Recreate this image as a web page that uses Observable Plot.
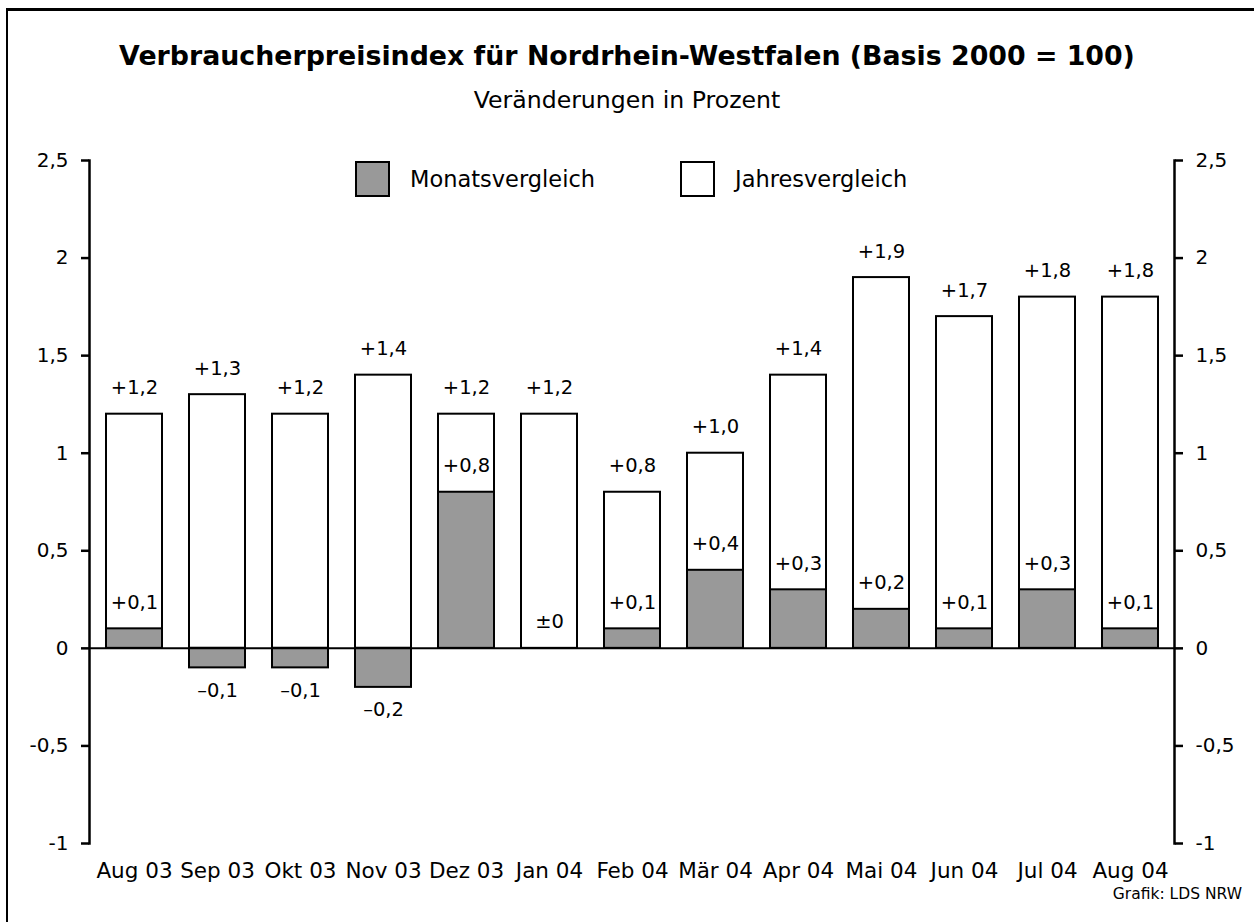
<!DOCTYPE html>
<html>
<head>
<meta charset="utf-8">
<script src="https://cdn.jsdelivr.net/npm/d3@7"></script>
<script src="https://cdn.jsdelivr.net/npm/@observablehq/plot@0.6"></script>
<style>
  body { margin: 0; background: #fff; overflow: hidden; }
  #wrap { position: relative; width: 1254px; height: 922px; overflow: hidden; font-family: "DejaVu Sans", sans-serif; color: #000; background: #fff; }
  #chart { position: absolute; left: 0; top: 0; }
  .frame { position: absolute; left: 6px; top: 8px; width: 1300px; height: 1000px; border-left: 2px solid #000; border-top: 3px solid #000; pointer-events: none; }
  #title { position: absolute; left: 0; width: 1254px; top: 41px; text-align: center; font-weight: bold; font-size: 26.8px; line-height: 30px; white-space: nowrap; }
  #subtitle { position: absolute; left: 0; width: 1254px; top: 86px; text-align: center; font-size: 23.6px; line-height: 28px; white-space: nowrap; }
  .swatch { position: absolute; width: 31px; height: 32px; border: 2px solid #000; }
  .ltext { position: absolute; font-size: 22.5px; line-height: 28px; white-space: nowrap; }
  #credit { position: absolute; right: 12px; top: 884px; font-size: 15.5px; line-height: 20px; white-space: nowrap; }
</style>
</head>
<body>
<div id="wrap">
  <div id="chart"></div>
  <div class="frame"></div>
  <div id="title"></div>
  <div id="subtitle"></div>
  <div id="legend"></div>
  <div id="credit"></div>
</div>
<script>
// ---- data ----
const months = ["Aug 03","Sep 03","Okt 03","Nov 03","Dez 03","Jan 04","Feb 04","Mär 04","Apr 04","Mai 04","Jun 04","Jul 04","Aug 04"];
const jahresvergleich = [1.2, 1.3, 1.2, 1.4, 1.2, 1.2, 0.8, 1.0, 1.4, 1.9, 1.7, 1.8, 1.8];
const monatsvergleich = [0.1, -0.1, -0.1, -0.2, 0.8, 0, 0.1, 0.4, 0.3, 0.2, 0.1, 0.3, 0.1];
const yTicks = [-1, -0.5, 0, 0.5, 1, 1.5, 2, 2.5];
const seriesNames = ["Monatsvergleich", "Jahresvergleich"];
const seriesColors = ["#999999", "#ffffff"];
const titleText = "Verbraucherpreisindex für Nordrhein-Westfalen (Basis 2000 = 100)";
const subtitleText = "Veränderungen in Prozent";
const creditText = "Grafik: LDS NRW";

// ---- helpers ----
const data = months.map((m, i) => ({month: m, jahr: jahresvergleich[i], monat: monatsvergleich[i]}));
const tickFmt = d => String(d).replace(".", ",");
const labelFmt = v => v > 0 ? "+" + v.toFixed(1).replace(".", ",")
                    : v < 0 ? "\u2013" + Math.abs(v).toFixed(1).replace(".", ",")
                    : "\u00b10";

const plot = Plot.plot({
  width: 1254,
  height: 922,
  marginLeft: 89,
  marginRight: 80,
  marginTop: 160,
  marginBottom: 79,
  style: {fontFamily: "DejaVu Sans, sans-serif", fontSize: "20px", background: "transparent", color: "#000", overflow: "visible"},
  x: {domain: months, paddingInner: 0.33, paddingOuter: 0.17, label: null},
  y: {domain: [-1, 2.5], label: null},
  marks: [
    Plot.barY(data, {x: "month", y: "jahr", fill: seriesColors[1], stroke: "#000", strokeWidth: 2}),
    Plot.barY(data, {x: "month", y: "monat", fill: seriesColors[0], stroke: "#000", strokeWidth: 2}),
    Plot.ruleY([0], {stroke: "#000", strokeWidth: 2}),
    Plot.frame({anchor: "left", stroke: "#000", strokeWidth: 2.5}),
    Plot.frame({anchor: "right", stroke: "#000", strokeWidth: 2.5}),
    Plot.axisY({anchor: "left", ticks: yTicks, tickFormat: tickFmt, tickSize: 8, tickPadding: 13, strokeWidth: 2.5, fontSize: 20, label: null}),
    Plot.axisY({anchor: "right", ticks: yTicks, tickFormat: tickFmt, tickSize: 8, tickPadding: 13, strokeWidth: 2.5, fontSize: 20, label: null}),
    Plot.axisX({tickSize: 0, tickPadding: 19, fontSize: 21.5, label: null}),
    Plot.text(data, {x: "month", y: "jahr", text: d => labelFmt(d.jahr), lineAnchor: "bottom", dy: -20, fontSize: 19.5, fill: "#000"}),
    Plot.text(data.filter(d => d.monat >= 0), {x: "month", y: "monat", text: d => labelFmt(d.monat), lineAnchor: "bottom", dy: -20, fontSize: 19.5, fill: "#000"}),
    Plot.text(data.filter(d => d.monat < 0), {x: "month", y: "monat", text: d => labelFmt(d.monat), lineAnchor: "bottom", dy: 29, fontSize: 19.5, fill: "#000"})
  ]
});
document.getElementById("chart").appendChild(plot);

document.getElementById("title").textContent = titleText;
document.getElementById("subtitle").textContent = subtitleText;
document.getElementById("credit").textContent = creditText;

const legend = document.getElementById("legend");
const legendPos = [{box: 355, text: 410}, {box: 680, text: 735}];
seriesNames.forEach((name, i) => {
  const sw = document.createElement("div");
  sw.className = "swatch";
  sw.style.left = legendPos[i].box + "px";
  sw.style.top = "161px";
  sw.style.background = seriesColors[i];
  legend.appendChild(sw);
  const t = document.createElement("div");
  t.className = "ltext";
  t.style.left = legendPos[i].text + "px";
  t.style.top = "165px";
  t.textContent = name;
  legend.appendChild(t);
});
</script>
</body>
</html>
